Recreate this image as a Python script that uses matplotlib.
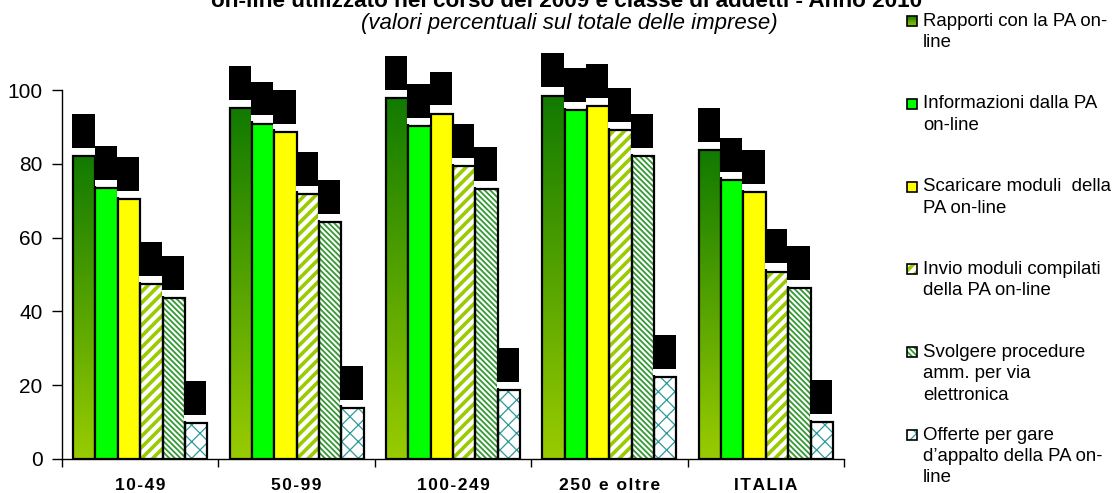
import numpy as np
import matplotlib
matplotlib.use("Agg")
import matplotlib.pyplot as plt
from matplotlib.patches import Rectangle

plt.rcParams['font.family'] = ['Liberation Sans', 'DejaVu Sans']

# ---- data -------------------------------------------------------------
categories = ["10-49", "50-99", "100-249", "250 e oltre", "ITALIA"]
series_labels = [
    "Rapporti con la PA on-\nline",
    "Informazioni dalla PA\non-line",
    "Scaricare moduli  della\nPA on-line",
    "Invio moduli compilati\ndella PA on-line",
    "Svolgere procedure\namm. per via\nelettronica",
    "Offerte per gare\nd\u2019appalto della PA on-\nline",
]
rapporti = [82.1, 95.0, 97.9, 98.5, 83.7]
informazioni = [73.4, 90.9, 90.2, 94.6, 75.7]
scaricare = [70.4, 88.7, 93.6, 95.7, 72.4]
invio = [47.5, 71.9, 79.4, 89.2, 50.8]
svolgere = [43.7, 64.3, 73.1, 82.1, 46.4]
offerte = [9.7, 13.9, 18.7, 22.1, 10.1]
yticks = [0, 20, 40, 60, 80, 100]

title = "on-line utilizzato nel corso del 2009 e classe di addetti - Anno 2010"
subtitle = "(valori percentuali sul totale delle imprese)"

series = [rapporti, informazioni, scaricare, invio, svolgere, offerte]

# ---- styles -----------------------------------------------------------
GRAD_BOTTOM = np.array([153, 204, 0]) / 255
GRAD_TOP = np.array([17, 122, 0]) / 255
styles = [
    dict(kind="gradient"),
    dict(kind="solid", color="#00FF00"),
    dict(kind="solid", color="#FFFF00"),
    dict(kind="hatch", color="#99CC00", hatch="///", hlw=2.6),
    dict(kind="hatch", color="#339933", hatch="\\" * 6, hlw=1.3),
    dict(kind="hatch", color="#2F9A9A", hatch="xx", hlw=0.9),
]


def set_hatch_lw(patch, lw):
    if hasattr(patch, "set_hatch_linewidth"):
        patch.set_hatch_linewidth(lw)
    else:
        patch._hatch_linewidth = lw


W, H = 1115, 493
fig = plt.figure(figsize=(W / 100, H / 100), dpi=100)
ax = fig.add_axes([62 / W, (H - 459) / H, (844 - 62) / W, (459 - 90) / H])

t = np.linspace(0, 1, 256)[:, None, None]
grad = GRAD_BOTTOM * (1 - t) + GRAD_TOP * t  # row 0 = bottom

x = np.arange(len(categories))
bw = 0.143
edge_lw = 1.6

for i, (vals, st) in enumerate(zip(series, styles)):
    xs = x + (i - 2.5) * bw
    if st["kind"] == "gradient":
        bars = ax.bar(xs, vals, bw, color="none", edgecolor="black",
                      linewidth=edge_lw, zorder=3)
        for b, v in zip(bars, vals):
            im = ax.imshow(grad, extent=[b.get_x(), b.get_x() + bw, 0, v],
                           aspect="auto", origin="lower", zorder=2,
                           interpolation="bilinear")
            im.set_clip_path(b)
    elif st["kind"] == "solid":
        ax.bar(xs, vals, bw, color=st["color"], edgecolor="black",
               linewidth=edge_lw, zorder=3)
    else:
        with plt.rc_context({"hatch.linewidth": st["hlw"]}):
            hb = ax.bar(xs, vals, bw, color="white", edgecolor=st["color"],
                        hatch=st["hatch"], linewidth=0, zorder=2)
        for p in hb:
            set_hatch_lw(p, st["hlw"])
        ax.bar(xs, vals, bw, fill=False, edgecolor="black",
               linewidth=edge_lw, zorder=3)
    # masked value labels above each bar
    for xi, v in zip(xs, vals):
        ax.add_patch(Rectangle((xi - bw / 2 - 0.006, v + 0.6), bw, 1.7,
                               facecolor="white", edgecolor="none",
                               zorder=4, clip_on=False))
        ax.add_patch(Rectangle((xi - bw / 2 - 0.006, v + 2.2), bw, 9.2,
                               facecolor="black", edgecolor="none",
                               zorder=5, clip_on=False))

ax.set_xlim(-0.5, len(categories) - 0.5)
ax.set_ylim(0, 100)
ax.set_yticks(yticks)
ax.tick_params(axis="y", length=7, width=1, pad=7, labelsize=15)

spaced = ["\u200a".join(c) for c in categories]
ax.set_xticks(x)
ax.set_xticklabels(spaced, fontweight="bold", fontsize=12.5)
ax.tick_params(axis="x", which="major", length=0, pad=14)
ax.set_xticks(np.arange(-0.5, len(categories), 1), minor=True)
ax.tick_params(axis="x", which="minor", length=6, width=1)
for s in ("top", "right"):
    ax.spines[s].set_visible(False)
for s in ("left", "bottom"):
    ax.spines[s].set_linewidth(1.0)

# ---- titles -----------------------------------------------------------
fig.text(567 / W, 1 - 7 / H, title, ha="center", va="baseline",
         fontsize=16.2, fontweight="bold")
fig.text(569 / W, 1 - 24 / H, subtitle, ha="center", va="center",
         fontsize=16, style="italic")

# ---- legend -----------------------------------------------------------
def fy(py):
    return 1 - py / H


msize = 10
for i, (lab, st) in enumerate(zip(series_labels, styles)):
    yc = 21 + 82.8 * i
    x0, y0 = 907, yc + msize / 2
    if st["kind"] == "gradient":
        n = 8
        for k in range(n):
            c = GRAD_BOTTOM * (1 - (k + 0.5) / n) + GRAD_TOP * ((k + 0.5) / n)
            fig.add_artist(Rectangle((x0 / W, fy(y0 - k * msize / n)),
                                     msize / W, msize / n / H,
                                     facecolor=c, edgecolor="none",
                                     transform=fig.transFigure))
        fc = "none"
    elif st["kind"] == "solid":
        fc = st["color"]
    else:
        with plt.rc_context({"hatch.linewidth": st["hlw"]}):
            hp = Rectangle((x0 / W, fy(y0)), msize / W, msize / H,
                           facecolor="white", edgecolor=st["color"],
                           hatch=st["hatch"], linewidth=0,
                           transform=fig.transFigure)
        set_hatch_lw(hp, st["hlw"])
        fig.add_artist(hp)
        fc = "none"
    fig.add_artist(Rectangle((x0 / W, fy(y0)), msize / W, msize / H,
                             facecolor=fc, edgecolor="black", linewidth=1.2,
                             transform=fig.transFigure))
    for k, line in enumerate(lab.split("\n")):
        fig.text(923 / W, fy(yc + 21.5 * k), line, ha="left", va="center",
                 fontsize=13.4)

fig.savefig("out.png", dpi=100)
